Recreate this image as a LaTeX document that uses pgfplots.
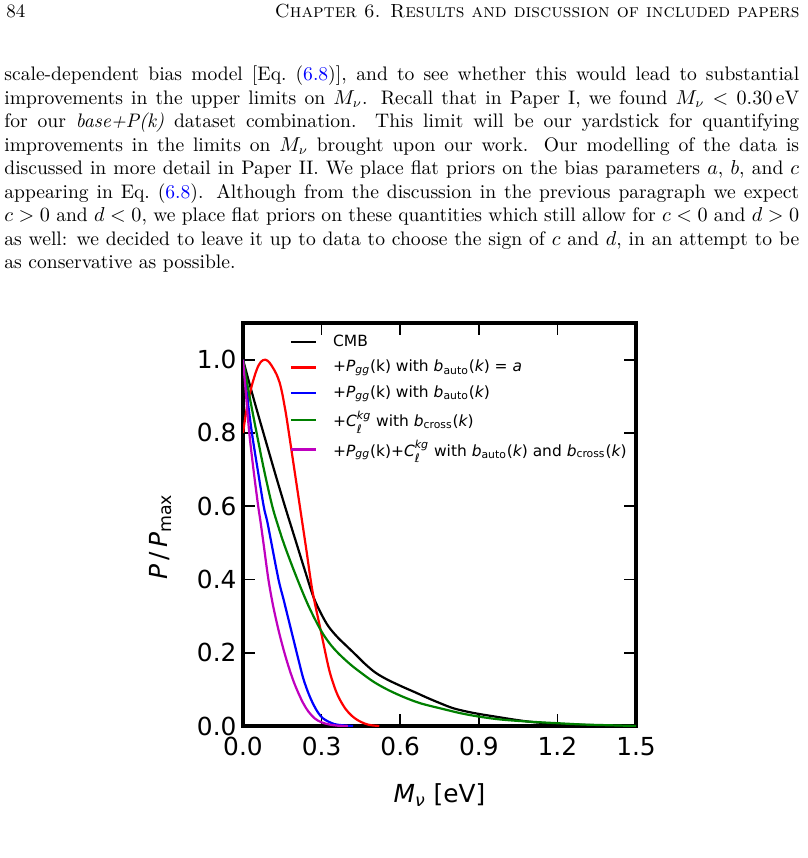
\documentclass[border=0pt]{standalone}
\usepackage{fontspec}
\usepackage{pgfplots}
\pgfplotsset{compat=1.18}
\newfontfamily\dv{DejaVu Sans}
\definecolor{mplgreen}{rgb}{0,0.5,0}
\definecolor{mplmag}{rgb}{0.75,0,0.75}
\definecolor{linkblue}{rgb}{0,0,1}
% C with super- and subscript, set in the sans text font
\newcommand\supsub[3]{\ensuremath{\hbox{\itshape #1}^{\hbox{\fontsize{6}{7}\selectfont\itshape #2}}_{\hbox{\fontsize{6.4}{7}\selectfont #3}}}}
\newcommand\Pgg{{\itshape P}\textsubscript{\itshape gg}(k)}
\newcommand\bauto{{\itshape b}\textsubscript{auto}({\itshape k})}
\newcommand\bcross{{\itshape b}\textsubscript{cross}({\itshape k})}
\begin{document}
\begin{tikzpicture}[x=0.5435pt,y=0.5435pt]
\path[use as bounding box] (0,0) rectangle (807,858);

% running head
\node[anchor=base west, inner sep=0pt, font=\fontsize{10.3}{12}\selectfont] at (6,840) {84};
\node[anchor=base east, inner sep=0pt, font=\fontsize{10.3}{12}\selectfont] at (800,840)
  {\textsc{Chapter 6. Results and discussion of included papers}};

% body paragraph
\node[anchor=base west, inner sep=0pt] at (4,777) {\parbox[t]{432pt}{\fontsize{10.64}{12.77}\selectfont
scale-dependent bias model [Eq.~(\textcolor{linkblue}{6.8})], and to see whether this would lead to substantial\linebreak
improvements in the upper limits on $M_\nu$. Recall that in Paper I, we found $M_\nu<0.30\,\mathrm{eV}$\linebreak
for our \textit{base+P(k)} dataset combination. This limit will be our yardstick for quantifying\linebreak
improvements in the limits on $M_\nu$ brought upon our work. Our modelling of the data is\linebreak
discussed in more detail in Paper II. We place flat priors on the bias parameters $a$, $b$, and $c$\linebreak
appearing in Eq.~(\textcolor{linkblue}{6.8}). Although from the discussion in the previous paragraph we expect\linebreak
$c>0$ and $d<0$, we place flat priors on these quantities which still allow for $c<0$ and $d>0$\linebreak
as well: we decided to leave it up to data to choose the sign of $c$ and $d$, in an attempt to be\linebreak
as conservative as possible.}};

\begin{axis}[
  at={(132.07pt,71.74pt)}, anchor=south west, scale only axis,
  width=213.6pt, height=219pt,
  xmin=0, xmax=1.5, ymin=0, ymax=1.1,
  xtick={0,0.3,0.6,0.9,1.2,1.5},
  ytick={0,0.2,0.4,0.6,0.8,1.0},
  tick align=inside, major tick length=6.5pt,
  every tick/.style={black, line width=0.9pt},
  axis line style={line width=1.8pt},
  tick label style={font=\dv\fontsize{13.5}{15}\selectfont},
  /pgf/number format/assume math mode=true,
  xticklabel style={yshift=-2.5pt, /pgf/number format/.cd, fixed, fixed zerofill, precision=1},
  yticklabel style={/pgf/number format/.cd, fixed, fixed zerofill, precision=1},
  xlabel={{\itshape M}\textsubscript{\itshape ν} [eV]},
  ylabel={{\itshape P}\,/\,{\itshape P}\textsubscript{max}},
  every axis x label/.style={at={(axis description cs:0.5,-0.172)}, anchor=center,
    font=\dv\fontsize{13.5}{15}\selectfont},
  every axis y label/.style={at={(axis description cs:-0.21,0.47)}, rotate=90, anchor=center,
    font=\dv\fontsize{13.5}{15}\selectfont},
  legend style={draw=none, fill=none, at={(axis description cs:0.118,0.98)}, anchor=north west,
    font=\dv\fontsize{8.4}{10}\selectfont, row sep=1.9pt, inner sep=0pt,
    /tikz/every odd column/.append style={column sep=6.8pt}},
  legend cell align=left,
  legend image code/.code={\draw[#1, line width=1.2pt] (0pt,0pt) -- (13.6pt,0pt);},
  every axis plot/.append style={line width=1.2pt, smooth, tension=0.55, mark=none},
]
\addplot[black] coordinates {
(0,1.0) (0.04,0.895) (0.08,0.795) (0.12,0.696) (0.16,0.6) (0.20,0.508) (0.24,0.416)
(0.269,0.352) (0.298,0.307) (0.326,0.272) (0.36,0.243) (0.393,0.22)
(0.428,0.196) (0.465,0.17) (0.505,0.146) (0.55,0.127) (0.606,0.108) (0.66,0.091) (0.708,0.0755)
(0.76,0.06) (0.80,0.049) (0.85,0.04) (0.90,0.033) (0.96,0.026) (1.03,0.018) (1.09,0.012)
(1.15,0.008) (1.22,0.005) (1.30,0.003) (1.40,0.001) (1.50,0.0)};
\addlegendentry{CMB}
\addplot[red] coordinates {
(0,0.80) (0.015,0.87) (0.032,0.925) (0.052,0.972) (0.068,0.994) (0.085,1.0) (0.10,0.993)
(0.115,0.977) (0.128,0.96) (0.14,0.937) (0.15,0.907) (0.158,0.876) (0.166,0.843) (0.185,0.753)
(0.204,0.662) (0.223,0.571) (0.242,0.48) (0.258,0.4) (0.270,0.35) (0.296,0.263)
(0.326,0.162) (0.345,0.115) (0.364,0.08) (0.39,0.048) (0.415,0.028) (0.44,0.015)
(0.467,0.006) (0.49,0.002) (0.52,0.0)};
\addlegendentry{+\Pgg{} with \bauto{} = {\itshape a}}
\addplot[blue] coordinates {
(0,1.0) (0.016,0.9) (0.034,0.8) (0.056,0.7) (0.079,0.6) (0.092,0.56) (0.107,0.505)
(0.1355,0.40) (0.155,0.345) (0.174,0.29) (0.193,0.235) (0.212,0.18) (0.23,0.13) (0.25,0.089)
(0.27,0.057) (0.288,0.035) (0.305,0.021) (0.326,0.012) (0.35,0.005) (0.38,0.002) (0.42,0.0)};
\addlegendentry{+\Pgg{} with \bauto}
\addplot[mplgreen] coordinates {
(0,1.0) (0.025,0.9) (0.052,0.8) (0.08,0.7) (0.11,0.605) (0.131,0.553) (0.16,0.49) (0.205,0.405)
(0.25,0.328) (0.295,0.264) (0.33,0.226) (0.3645,0.198) (0.41,0.168) (0.453,0.144) (0.50,0.12)
(0.555,0.098) (0.62,0.077) (0.682,0.061) (0.76,0.047) (0.83,0.035) (0.898,0.026) (0.98,0.018)
(1.09,0.012) (1.217,0.007) (1.30,0.004) (1.40,0.002) (1.50,0.0)};
\addlegendentry{+\supsub{C}{kg}{ℓ} with \bcross}
\addplot[mplmag] coordinates {
(0,1.0) (0.012,0.9) (0.024,0.8) (0.04,0.7) (0.058,0.6) (0.066,0.562) (0.078,0.5) (0.097,0.4)
(0.115,0.328) (0.1355,0.262) (0.155,0.208) (0.174,0.162) (0.193,0.122) (0.212,0.089)
(0.23,0.062) (0.25,0.039) (0.275,0.02) (0.30,0.01) (0.33,0.004) (0.36,0.001) (0.40,0.0)};
\addlegendentry{+\Pgg+\supsub{C}{kg}{ℓ} with \bauto{} and \bcross}
\end{axis}
\end{tikzpicture}
\end{document}
